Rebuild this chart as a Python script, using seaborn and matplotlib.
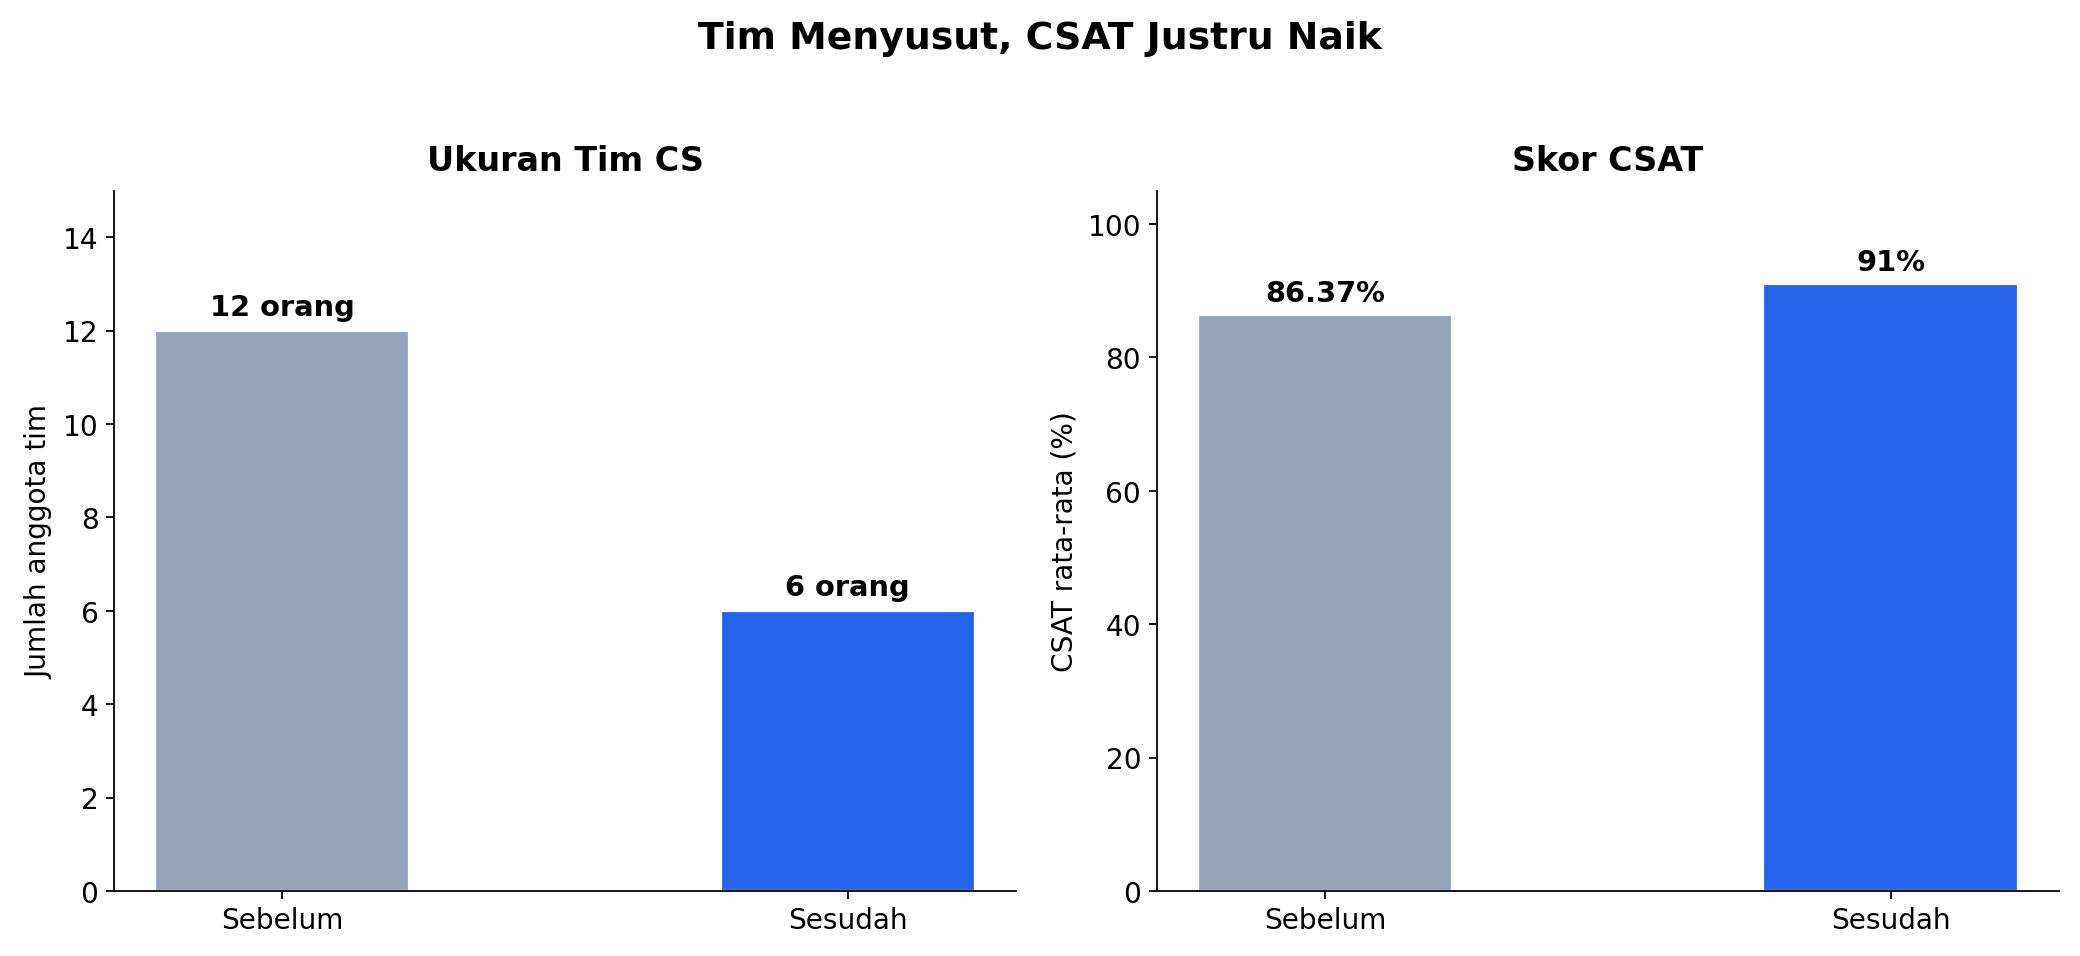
import matplotlib
matplotlib.use("Agg")
import matplotlib.pyplot as plt
import seaborn as sns
import pandas as pd

# Data
periods = ["Sebelum", "Sesudah"]
team_size = [12, 6]
csat_score = [86.37, 91]
bar_colors = ["#94A3B8", "#2563EB"]

sns.set_style("ticks")
plt.rcParams['font.family'] = ['DejaVu Sans']
plt.rcParams.update({
    "text.color": "black",
    "axes.labelcolor": "black",
    "axes.edgecolor": "black",
    "xtick.color": "black",
    "ytick.color": "black",
})

fig, axes = plt.subplots(1, 2, figsize=(13, 5.98), dpi=160)

df_team = pd.DataFrame({"periode": periods, "nilai": team_size})
df_csat = pd.DataFrame({"periode": periods, "nilai": csat_score})

panels = [
    (axes[0], df_team, "Ukuran Tim CS", "Jumlah anggota tim", (0, 15), lambda v: f"{v:g} orang", 0.2),
    (axes[1], df_csat, "Skor CSAT", "CSAT rata-rata (%)", (0, 105), lambda v: f"{v:g}%", 1.2),
]

for ax, df, title, ylabel, ylim, fmt, pad in panels:
    sns.barplot(data=df, x="periode", y="nilai", hue="periode", palette=bar_colors,
                width=0.45, legend=False, ax=ax, saturation=1)
    for i, v in enumerate(df["nilai"]):
        ax.text(i, v + pad, fmt(v), ha="center", va="bottom", fontsize=13, fontweight="bold")
    ax.set_title(title, fontsize=15, fontweight="bold", pad=9)
    ax.set_ylabel(ylabel, fontsize=12.6)
    ax.set_xlabel("")
    ax.set_ylim(*ylim)
    ax.set_xlim(-0.2975, 1.2975)
    ax.tick_params(labelsize=12.6)
    sns.despine(ax=ax)

fig.suptitle("Tim Menyusut, CSAT Justru Naik", fontsize=17, fontweight="bold", y=0.978)
fig.subplots_adjust(left=0.0548, right=0.9898, top=0.8, bottom=0.068, wspace=0.156)
fig.savefig("out.png", dpi=160)
